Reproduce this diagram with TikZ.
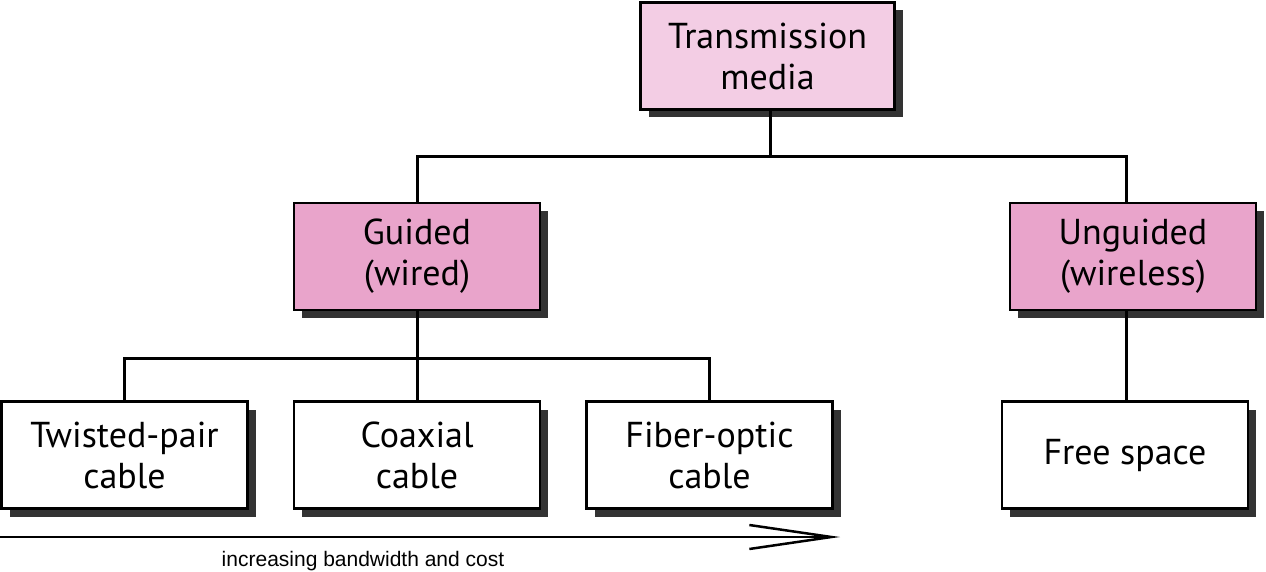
\documentclass[tikz,border=0pt]{standalone}
\usepackage{fontspec}
\setmainfont{PT Sans}
\newfontfamily\arialfont{Liberation Sans}
\usetikzlibrary{shadows,arrows.meta}
\definecolor{toppink}{HTML}{F3CDE4}
\definecolor{midpink}{HTML}{E9A4CB}
\definecolor{shadowgray}{HTML}{333333}
\begin{document}
\begin{tikzpicture}[x=1pt,y=-1pt,
  box/.style={draw=black, line width=2.5pt, minimum width=246pt, minimum height=107pt,
    align=center, font=\fontsize{36}{41}\selectfont, inner sep=0pt,
    drop shadow={shadow xshift=8pt, shadow yshift=-8pt, fill=shadowgray, opacity=1}},
  conn/.style={line width=3pt}]
\useasboundingbox (0,0) rectangle (1266,572);
\node[box, fill=toppink, minimum width=254pt] (tm) at (767.5,56) {Transmission\\media};
\node[box, fill=midpink] (g) at (417,256.5) {Guided\\(wired)};
\node[box, fill=midpink] (u) at (1133,256.5) {Unguided\\(wireless)};
\node[box, fill=white] (tp) at (124.5,455) {Twisted-pair\\cable};
\node[box, fill=white] (co) at (417,455) {Coaxial\\cable};
\node[box, fill=white] (fo) at (709.5,455) {Fiber-optic\\cable};
\node[box, fill=white] (fs) at (1125,455) {Free space};
\coordinate (j1) at (770,157);
\coordinate (j2) at (417,358);
\coordinate (j3) at (1126,157);
\draw[conn] (tm.south -| j1) -- (j1);
\draw[conn] (g.north -| j2) |- (j1) -- (j3) -- (u.north -| j3);
\draw[conn] (g.south -| j2) -- (j2);
\draw[conn] (tp.north) |- (j2) -| (fo.north);
\draw[conn] (co.north) -- (j2);
\draw[conn] (u.south -| j3) -- (fs.north -| j3);
\coordinate (a0) at (0,537);
\coordinate (a1) at (840,537);
\draw[line width=2pt, -{Straight Barb[length=82pt, width=24pt, line width=2.5pt]}] (a0) -- (a1);
\node[font=\arialfont\fontsize{21}{25}\selectfont, inner sep=0pt] (lab) at (363,561) {increasing bandwidth and cost};
\end{tikzpicture}
\end{document}
